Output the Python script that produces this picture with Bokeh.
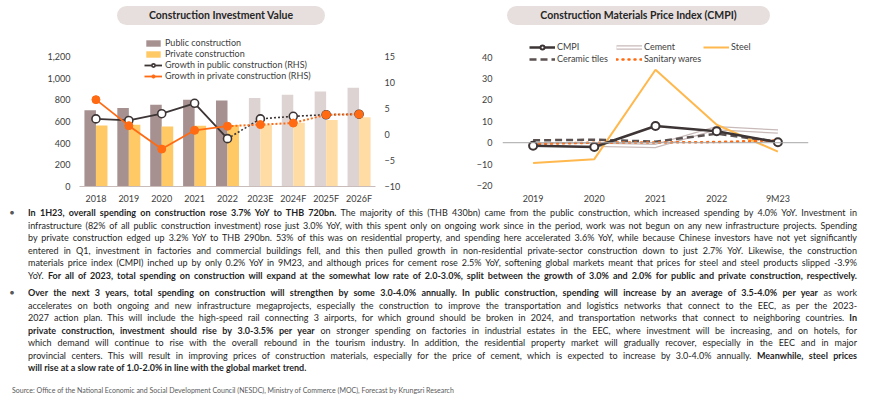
from bokeh.plotting import figure
from bokeh.models import (ColumnDataSource, FactorRange, Range1d, LinearAxis, FixedTicker,
                          NumeralTickFormatter, Legend, LegendItem, Label, Span, Div)
from bokeh.transform import dodge
from bokeh.layouts import column, row
from bokeh.embed import file_html
from bokeh.resources import INLINE

# ---------------- data ----------------
years = ["2018", "2019", "2020", "2021", "2022", "2023E", "2024F", "2025F", "2026F"]
public_value = [705, 725, 755, 800, 795, 818, 846, 877, 911]
private_value = [563, 569, 554, 560, 568, 570, 588, 615, 640]
public_growth = [3.0, 2.7, 4.0, 6.0, -0.8, 3.0, 3.5, 3.8, 3.9]
private_growth = [6.7, 1.7, -2.8, 0.8, 1.6, 1.9, 2.2, 3.8, 3.9]
n_actual = 5

periods = ["2019", "2020", "2021", "2022", "9M23"]
cmpi = [-1.4, -2.0, 7.8, 5.4, 0.2]
cement = [-0.9, -1.0, -1.5, 6.8, 5.2]
steel = [-9.5, -7.7, 34.1, 8.4, -4.2]
ceramic_tiles = [1.1, 1.4, 0.5, 4.2, 0.4]
sanitary_wares = [-0.6, 0.0, 0.1, 0.3, 1.1]

left_ticks = [0, 200, 400, 600, 800, 1000, 1200]
rhs_ticks = [-10, -5, 0, 5, 10, 15]
right_ticks = [-20, -10, 0, 10, 20, 30, 40]

title_left = "Construction Investment Value"
title_right = "Construction Materials Price Index (CMPI)"

para1 = [
    "<b>In 1H23, overall spending on construction rose 3.7% YoY to THB 720bn.</b> The majority of this (THB 430bn) came from the public construction, which increased spending by 4.0% YoY. Investment in",
    "infrastructure (82% of all public construction investment) rose just 3.0% YoY, with this spent only on ongoing work since in the period, work was not begun on any new infrastructure projects. Spending",
    "by private construction edged up 3.2% YoY to THB 290bn. 53% of this was on residential property, and spending here accelerated 3.6% YoY, while because Chinese investors have not yet significantly",
    "entered in Q1, investment in factories and commercial buildings fell, and this then pulled growth in non-residential private-sector construction down to just 2.7% YoY. Likewise, the construction",
    "materials price index (CMPI) inched up by only 0.2% YoY in 9M23, and although prices for cement rose 2.5% YoY, softening global markets meant that prices for steel and steel products slipped -3.9%",
    "YoY. <b>For all of 2023, total spending on construction will expand at the somewhat low rate of 2.0-3.0%, split between the growth of 3.0% and 2.0% for public and private construction, respectively.</b>",
]
para2 = [
    "<b>Over the next 3 years, total spending on construction will strengthen by some 3.0-4.0% annually. In public construction, spending will increase by an average of 3.5-4.0% per year</b> as work",
    "accelerates on both ongoing and new infrastructure megaprojects, especially the construction to improve the transportation and logistics networks that connect to the EEC, as per the 2023-",
    "2027 action plan. This will include the high-speed rail connecting 3 airports, for which ground should be broken in 2024, and transportation networks that connect to neighboring countries. <b>In</b>",
    "<b>private construction, investment should rise by 3.0-3.5% per year</b> on stronger spending on factories in industrial estates in the EEC, where investment will be increasing, and on hotels, for",
    "which demand will continue to rise with the overall rebound in the tourism industry. In addition, the residential property market will gradually recover, especially in the EEC and in major",
    "provincial centers. This will result in improving prices of construction materials, especially for the price of cement, which is expected to increase by 3.0-4.0% annually. <b>Meanwhile, steel prices</b>",
    "<b>will rise at a slow rate of 1.0-2.0% in line with the global market trend.</b>",
]
source_text = ("Source: Office of the National Economic and Social Development Council (NESDC), "
               "Ministry of Commerce (MOC), Forecast by Krungsri Research")

# ---------------- styles ----------------
FONT = "Lato"
TXT = "#404040"
DARK = "#3d3535"
ORANGE = "#ff6a13"
PUB = "#a69190"
PUB_FC = "#ddd3d2"
PRI = "#ffc966"
PRI_FC = "#ffdca3"


def style_axis(ax, standoff, size="9px"):
    ax.axis_line_color = None
    ax.major_tick_line_color = None
    ax.minor_tick_line_color = None
    ax.major_tick_out = 0
    ax.major_tick_in = 0
    ax.minor_tick_out = 0
    ax.minor_tick_in = 0
    ax.major_label_standoff = standoff
    ax.major_label_text_font = FONT
    ax.major_label_text_font_size = size
    ax.major_label_text_color = TXT


FIG_H = 180

# ---------------- left chart ----------------
p1 = figure(width=435, height=FIG_H, x_range=FactorRange(*years), y_range=Range1d(0, 1440),
            output_backend="svg", toolbar_location=None,
            min_border_left=79, min_border_right=60, min_border_top=4, min_border_bottom=20)
p1.extra_y_ranges = {"rhs": Range1d(-10, 20)}
p1.grid.visible = False
p1.outline_line_color = None

fc = [i >= n_actual for i in range(len(years))]
src = ColumnDataSource(dict(
    year=years, pub=public_value, pri=private_value,
    pub_color=[PUB_FC if f else PUB for f in fc],
    pri_color=[PRI_FC if f else PRI for f in fc],
))
r_pub = p1.vbar(x=dodge("year", -0.175, range=p1.x_range), top="pub", width=0.35,
                fill_color="pub_color", line_color=None, source=src)
r_pri = p1.vbar(x=dodge("year", 0.175, range=p1.x_range), top="pri", width=0.35,
                fill_color="pri_color", line_color=None, source=src)

l_pub = p1.line(years[:n_actual], public_growth[:n_actual], y_range_name="rhs",
                line_color=DARK, line_width=1.8)
p1.line(years[n_actual - 1:], public_growth[n_actual - 1:], y_range_name="rhs",
        line_color=DARK, line_width=1.6, line_dash="2 2")
m_pub = p1.scatter(years, public_growth, y_range_name="rhs", size=8,
                   fill_color="white", line_color=DARK, line_width=1.6)
l_pri = p1.line(years[:n_actual], private_growth[:n_actual], y_range_name="rhs",
                line_color=ORANGE, line_width=1.8)
p1.line(years[n_actual - 1:], private_growth[n_actual - 1:], y_range_name="rhs",
        line_color=ORANGE, line_width=2, line_dash="2 2")
m_pri = p1.scatter(years, private_growth, y_range_name="rhs", size=8,
                   fill_color=ORANGE, line_color=ORANGE)

p1.yaxis.ticker = FixedTicker(ticks=left_ticks)
p1.yaxis.formatter = NumeralTickFormatter(format="0,0")
style_axis(p1.yaxis[0], 9)
style_axis(p1.xaxis[0], 6)
p1.xaxis.axis_line_color = "#c9bdbc"

rax = LinearAxis(y_range_name="rhs", ticker=FixedTicker(ticks=rhs_ticks))
style_axis(rax, 9)
p1.add_layout(rax, "right")

leg1 = Legend(items=[
    LegendItem(label="Public construction", renderers=[r_pub], index=0),
    LegendItem(label="Private construction", renderers=[r_pri], index=0),
    LegendItem(label="Growth in public construction (RHS)", renderers=[l_pub, m_pub]),
    LegendItem(label="Growth in private construction (RHS)", renderers=[l_pri, m_pri]),
], location=(65, 105), orientation="vertical", padding=0, margin=0, spacing=0,
    glyph_width=18, glyph_height=8, label_height=9, label_standoff=3,
    label_text_font=FONT, label_text_font_size="9px", label_text_color=TXT,
    border_line_color=None, background_fill_alpha=0)
p1.add_layout(leg1)

p1.add_layout(Label(x=-18, y=146, x_units="screen", y_units="screen", text="THB, bn",
                    text_align="center", text_baseline="middle", text_font=FONT,
                    text_font_size="9px", text_color=TXT))
p1.add_layout(Label(x=310, y=146, x_units="screen", y_units="screen", text="%",
                    text_align="center", text_baseline="middle", text_font=FONT,
                    text_font_size="9px", text_color=TXT))

# ---------------- right chart ----------------
p2 = figure(width=435, height=FIG_H, x_range=FactorRange(*periods), y_range=Range1d(-20.48, 52.47),
            output_backend="svg", toolbar_location=None,
            min_border_left=67, min_border_right=62, min_border_top=4, min_border_bottom=20)
p2.grid.visible = False
p2.outline_line_color = None
p2.add_layout(Span(location=0, dimension="width", line_color="#a6a6a6", line_width=1))

c1 = p2.line(periods, cement, line_color="#c9baba", line_width=4.5)
c2 = p2.line(periods, cement, line_color="white", line_width=2)
s1 = p2.line(periods, steel, line_color="#ffb84d", line_width=2)
t1 = p2.line(periods, ceramic_tiles, line_color="#5b5151", line_width=2.5, line_dash="7 4")
w1 = p2.line(periods, sanitary_wares, line_color=ORANGE, line_width=2.5, line_dash="1 5",
             line_cap="round")
k1 = p2.line(periods, cmpi, line_color=DARK, line_width=2.5)
k2 = p2.scatter(periods, cmpi, size=8, fill_color="white", line_color=DARK, line_width=2)

p2.yaxis.ticker = FixedTicker(ticks=right_ticks)
style_axis(p2.yaxis[0], 10)
style_axis(p2.xaxis[0], 6)

leg2 = Legend(items=[
    LegendItem(label="CMPI", renderers=[k1, k2]),
    LegendItem(label="Cement", renderers=[c1, c2]),
    LegendItem(label="Steel", renderers=[s1]),
    LegendItem(label="Ceramic tiles", renderers=[t1]),
    LegendItem(label="Sanitary wares", renderers=[w1]),
], location=(27, 122), orientation="horizontal", ncols=3, padding=0, margin=0, spacing=1,
    glyph_width=26, glyph_height=10, label_height=10, label_width=58, label_standoff=2,
    label_text_font=FONT, label_text_font_size="9px", label_text_color=TXT,
    border_line_color=None, background_fill_alpha=0)
p2.add_layout(leg2)
p2.add_layout(Label(x=-15, y=146, x_units="screen", y_units="screen", text="%",
                    text_align="center", text_baseline="middle", text_font=FONT,
                    text_font_size="9px", text_color=TXT))

# ---------------- title pills ----------------
pill_css = ("position:absolute;top:6px;height:19px;border-radius:10px;background:#e7dfdd;"
            "font-family:Lato;font-weight:bold;font-size:10.5px;line-height:19px;"
            "text-align:center;color:#262626;white-space:nowrap;")
pills = Div(text=(
    '<div style="position:relative;width:870px;height:26px;">'
    f'<div style="{pill_css}left:117px;width:208px;">{title_left}</div>'
    f'<div style="{pill_css}left:507px;width:263px;">{title_right}</div>'
    '</div>'), width=870, height=26, margin=0)

# ---------------- text block ----------------
DIV_TOP = 26 + FIG_H
DIV_H = 414 - DIV_TOP


def line_html(content, center, justify=True):
    al = "justify" if justify else "left"
    return (f'<div style="position:absolute;left:28px;top:{center - 5 - DIV_TOP:.1f}px;width:829px;'
            f'height:10px;line-height:10px;white-space:nowrap;text-align:{al};text-align-last:{al};">'
            f'{content}</div>')


def bullet_html(center):
    return (f'<div style="position:absolute;left:8px;top:{center - 5 - DIV_TOP:.1f}px;width:8px;'
            f'height:10px;line-height:10px;font-size:7.5px;color:#595959;text-align:center;">&#9679;</div>')


parts = [f'<div style="position:relative;width:870px;height:{DIV_H}px;font-family:Lato;'
         'font-size:9px;color:#1f1f1f;">']
c0 = 213.0
parts.append(bullet_html(c0))
for i, ln in enumerate(para1):
    parts.append(line_html(ln, c0 + 12.6 * i))
c1p = 293.0
parts.append(bullet_html(c1p))
for i, ln in enumerate(para2):
    parts.append(line_html(ln, c1p + 12.5 * i, justify=(i < len(para2) - 1)))
parts.append(f'<div style="position:absolute;left:12px;top:{390 - 5 - DIV_TOP}px;height:10px;'
             f'line-height:10px;font-size:7px;color:#595959;white-space:nowrap;">{source_text}</div>')
parts.append('</div>')
text_div = Div(text="".join(parts), width=870, height=DIV_H, margin=0)

layout = column(pills, row(p1, p2), text_div)
open("out.html", "w").write(file_html(layout, INLINE))
